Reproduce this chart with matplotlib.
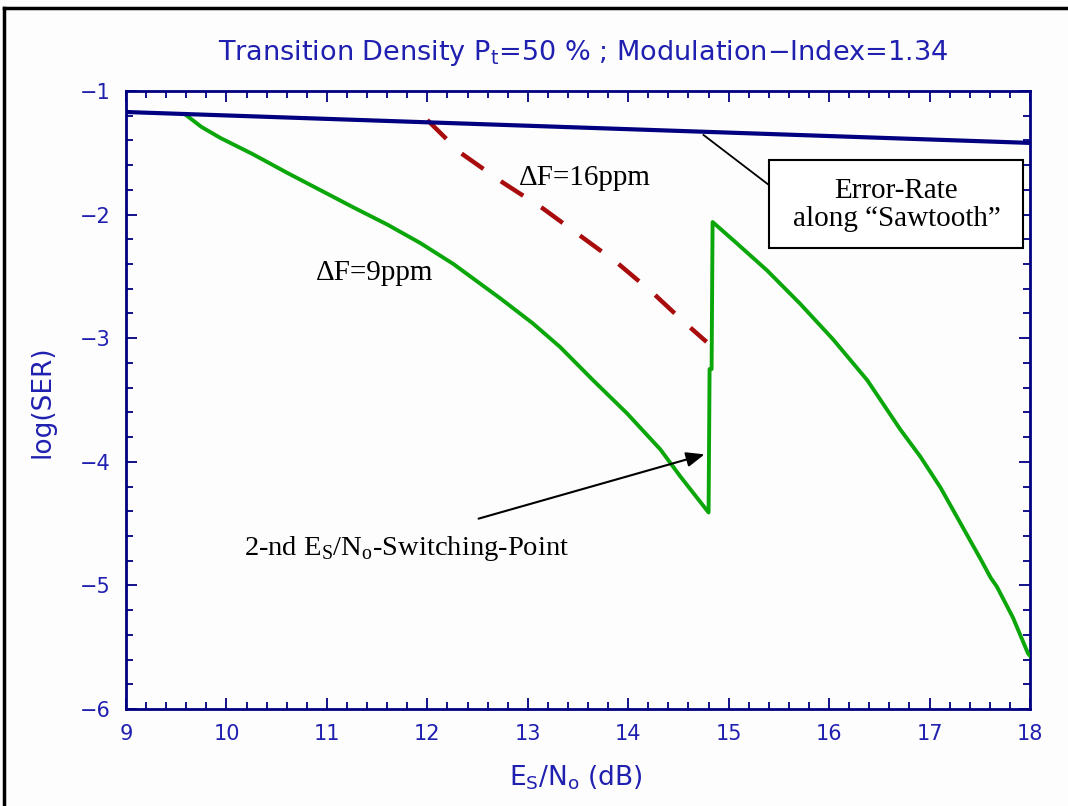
import matplotlib
matplotlib.use("Agg")
import matplotlib.pyplot as plt
from matplotlib.lines import Line2D
from matplotlib.patches import Rectangle
from matplotlib.ticker import MultipleLocator

# ---- data ----
saw_x = [9.0, 18.0]
saw_y = [-1.17, -1.42]

f9_x = [9.59, 9.75, 9.94, 10.26, 10.60, 10.93, 11.26, 11.60, 11.93, 12.26, 12.73, 13.05,
        13.32, 13.65, 13.99, 14.32, 14.52, 14.80, 14.81, 14.83, 14.84, 15.05, 15.38,
        15.71, 16.04, 16.38, 16.71, 16.91, 17.11, 17.31, 17.51, 17.61, 17.67, 17.83, 17.98, 18.0]
f9_y = [-1.19, -1.29, -1.38, -1.51, -1.66, -1.80, -1.94, -2.08, -2.23, -2.40, -2.68, -2.88,
        -3.07, -3.34, -3.61, -3.90, -4.12, -4.41, -3.25, -3.25, -2.06, -2.21, -2.45,
        -2.72, -3.01, -3.34, -3.74, -3.96, -4.21, -4.50, -4.79, -4.94, -5.01, -5.26, -5.55, -5.57]

f16_x = [12.00, 12.33, 12.75, 13.15, 13.52, 13.89, 14.24, 14.57, 14.78]
f16_y = [-1.235, -1.50, -1.74, -1.95, -2.17, -2.39, -2.63, -2.88, -3.03]

x_ticks = [9, 10, 11, 12, 13, 14, 15, 16, 17, 18]
y_ticks = [-6, -5, -4, -3, -2, -1]

BLUE = "#2020b0"
NAVY = "#000080"
W, H = 1068, 806

fig = plt.figure(figsize=(W / 100, H / 100), dpi=100, facecolor="#fdfdfd")
ax = fig.add_axes([126 / W, 1 - 709 / H, (1030 - 126) / W, (709 - 91) / H])
ax.set_facecolor("#fdfdfd")

ax.plot(saw_x, saw_y, color=NAVY, lw=3.0, solid_capstyle="butt", zorder=4)
ax.plot(f9_x, f9_y, color="#0aa60a", lw=2.8, zorder=3)
ax.plot(f16_x, f16_y, color="#a80c0c", lw=3.2, dashes=(6.0, 4.8), zorder=3)

ax.set_xlim(9, 18)
ax.set_ylim(-6, -1)
ax.set_xticks(x_ticks)
ax.set_yticks(y_ticks)
ax.xaxis.set_minor_locator(MultipleLocator(0.2))
ax.yaxis.set_minor_locator(MultipleLocator(0.2))
ax.tick_params(which="both", direction="in", top=True, right=True, color=NAVY,
               labelcolor=BLUE, labelsize=15, width=1.3)
ax.tick_params(which="major", length=8)
ax.tick_params(which="minor", length=5)
ax.tick_params(axis="x", pad=11)
ax.tick_params(axis="y", pad=11)
ax.set_xticklabels([str(v) for v in x_ticks])
ax.set_yticklabels(["\u2212" + str(-v) for v in y_ticks])
for s in ax.spines.values():
    s.set_color(NAVY)
    s.set_linewidth(2.0)

fig.text(576 / W, 1 - 785 / H, "E$_\\mathregular{S}$/N$_\\mathregular{o}$ (dB)",
         color=BLUE, fontsize=19, ha="center", va="baseline")
fig.text(43 / W, 1 - 402 / H, "log(SER)", color=BLUE, fontsize=19, rotation=90,
         ha="center", va="center")
fig.text(583 / W, 1 - 60 / H,
         "Transition Density P$_\\mathregular{t}$=50 % ; Modulation\u2212Index=1.34",
         color=BLUE, fontsize=19.5, ha="center", va="baseline")

serif = "Liberation Serif"
ax.text(13.57, -1.70, "\u0394F=16ppm", family=serif, fontsize=21, ha="center", va="center")
ax.text(11.47, -2.47, "\u0394F=9ppm", family=serif, fontsize=21, ha="center", va="center")
ax.text(11.79, -4.70, "2-nd E$_\\mathregular{S}$/N$_\\mathregular{o}$-Switching-Point",
        family=serif, fontsize=20.5, ha="center", va="center")

# sawtooth callout
ax.add_patch(Rectangle((15.40, -2.27), 17.93 - 15.40, 2.27 - 1.558, fc="white", ec="black",
                       lw=1.5, zorder=5))
ax.text(16.67, -1.92, "Error-Rate\nalong \u201cSawtooth\u201d", family=serif, fontsize=21,
        ha="center", va="center", linespacing=1.12, zorder=6)
ax.plot([14.75, 15.40], [-1.356, -1.76], color="black", lw=1.3, zorder=5)

# switching point arrow
ax.annotate("", xy=(14.76, -3.94), xytext=(12.51, -4.46),
            arrowprops=dict(arrowstyle="-|>,head_length=1.1,head_width=0.45", color="black",
                            lw=1.5, shrinkA=0, shrinkB=0))

# outer frame
fig.add_artist(Line2D([4 / W, 4 / W], [0, 1 - 8 / H], transform=fig.transFigure, color="black", lw=2.5))
fig.add_artist(Line2D([4 / W, 1], [1 - 8 / H, 1 - 8 / H], transform=fig.transFigure, color="black", lw=2.5))

fig.savefig("out.png", dpi=100, facecolor=fig.get_facecolor())
